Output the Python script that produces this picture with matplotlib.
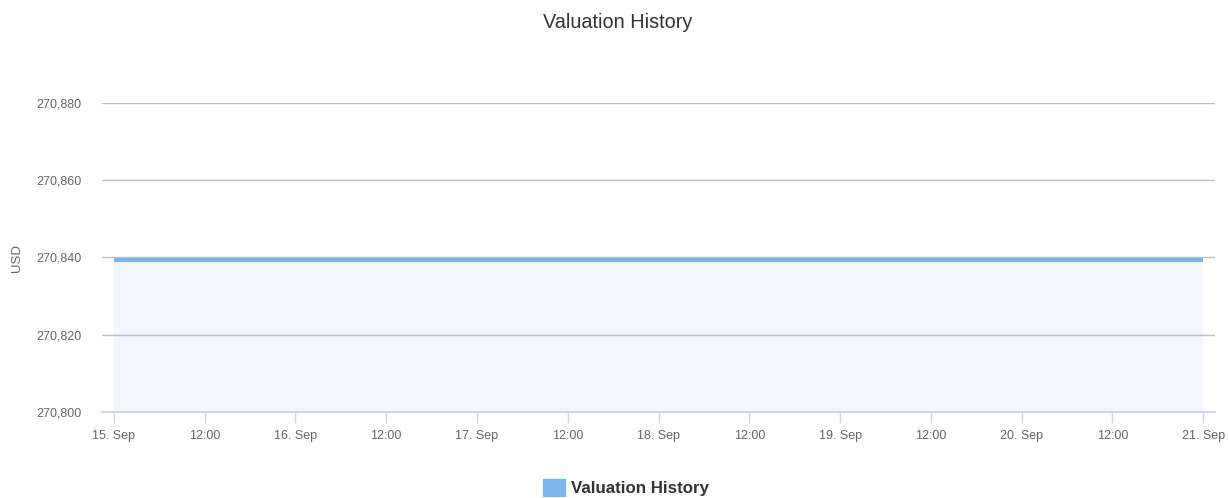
import matplotlib
matplotlib.use("Agg")
import matplotlib.pyplot as plt
import matplotlib.dates as mdates
from matplotlib.patches import Rectangle
from matplotlib.ticker import FuncFormatter
from datetime import datetime, timedelta

# Data (flat valuation over the week)
dates = ["2023-09-15", "2023-09-16", "2023-09-17", "2023-09-18",
         "2023-09-19", "2023-09-20", "2023-09-21"]
values = [270839.4, 270839.4, 270839.4, 270839.4, 270839.4, 270839.4, 270839.4]
y_ticks = [270800, 270820, 270840, 270860, 270880]
series_name = "Valuation History"

x = [datetime.strptime(d, "%Y-%m-%d") for d in dates]

sans = ["Liberation Sans", "DejaVu Sans"]
text_col = "#666666"

fig = plt.figure(figsize=(12.28, 4.98), dpi=100)
ax = fig.add_axes([102 / 1228, 86 / 498, (1215 - 102) / 1228, (412 - 103) / 498])

ax.fill_between(x, values, y_ticks[0], color="#7cb5ec", alpha=0.1, linewidth=0)
ax.plot(x, values, color="#7cb5ec", linewidth=3, solid_capstyle="butt")

pad = timedelta(hours=1.55)
ax.set_xlim(x[0] - pad, x[-1] + pad)
ax.set_ylim(y_ticks[0], y_ticks[-1])
ax.set_yticks(y_ticks)
ax.yaxis.set_major_formatter(FuncFormatter(lambda v, p: f"{int(v):,}"))

# x ticks every 12 hours, days as "15. Sep", noon as "12:00"
ax.xaxis.set_major_locator(mdates.HourLocator(byhour=[0, 12]))
def fmt_date(v, p):
    d = mdates.num2date(v)
    return d.strftime("%-d. %b") if d.hour == 0 else d.strftime("%H:%M")
ax.xaxis.set_major_formatter(FuncFormatter(fmt_date))

ax.grid(axis="y", color="#c0c0c0", linewidth=1)
ax.set_axisbelow(True)
for s in ["top", "right", "left"]:
    ax.spines[s].set_visible(False)
ax.spines["bottom"].set_color("#ccd6eb")
ax.spines["bottom"].set_linewidth(1.5)

ax.tick_params(axis="y", length=0, pad=15, labelsize=9, labelcolor=text_col)
ax.tick_params(axis="x", length=8, width=1, color="#ccd6eb", pad=5,
               labelsize=9, labelcolor=text_col)
for lbl in ax.get_xticklabels() + ax.get_yticklabels():
    lbl.set_family(sans)

fig.text(17 / 1228, 1 - 258 / 498, "USD", rotation=90, ha="center", va="center",
         family=sans, fontsize=9.5, color=text_col)

fig.text(617.5 / 1228, 1 - 22 / 498, series_name, ha="center", va="center",
         family=sans, fontsize=14.3, color="#333333")

# legend at the bottom
fig.patches.append(Rectangle((543 / 1228, 2 / 498), 22 / 1228, 17 / 498,
                             transform=fig.transFigure, color="#7cb5ec"))
fig.text(571 / 1228, 1 - 488 / 498, series_name, ha="left", va="center",
         fontsize=12.2, fontweight="bold", color="#333333", family=sans)

fig.savefig("out.png", dpi=100)
